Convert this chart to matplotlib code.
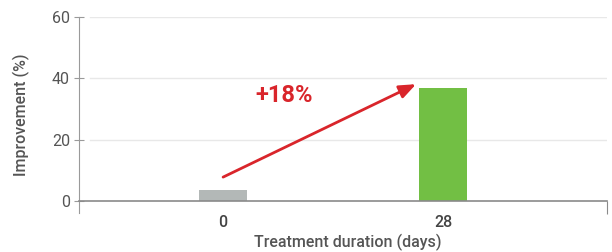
import matplotlib
matplotlib.use('Agg')
import matplotlib.pyplot as plt

# data
categories = ['0', '28']
improvement = [3.6, 36.8]
bar_colors = ['#b3b8b7', '#72bf44']
y_ticks = [0, 20, 40, 60]
delta_label = '+18%'

plt.rcParams['font.family'] = ['Roboto', 'DejaVu Sans']

fig = plt.figure(figsize=(6.12, 2.52), dpi=100)
ax = fig.add_axes([79 / 612, 1 - 213 / 252, 528 / 612, 196 / 252])

x = list(range(len(categories)))
ax.bar(x, improvement, width=0.215, color=bar_colors, zorder=2)

ax.set_xlim(-0.655, 1.745)
ax.set_ylim(-3.9, 60)

# light gridlines, starting a bit right of the axis
for t in y_ticks[1:]:
    ax.axhline(t, xmin=11 / 528, xmax=1, color='#e8e8e8', lw=1, zorder=0)

# spines
for s in ['top', 'right']:
    ax.spines[s].set_visible(False)
ax.spines['left'].set_color('#9a9a9a')
ax.spines['bottom'].set_position(('data', 0))
ax.spines['bottom'].set_color('#8a8a8a')
ax.spines['bottom'].set_linewidth(1.2)

ax.set_yticks(y_ticks)
ax.tick_params(axis='y', direction='inout', length=7, color='#9a9a9a',
               labelsize=11.5, labelcolor='#555555', pad=3)

# x ticks only at the axis ends, labels placed as text
ax.set_xticks([1.745])
ax.set_xticklabels([''])
ax.tick_params(axis='x', direction='out', length=9, color='#8a8a8a')
for xi, lab in zip(x, categories):
    ax.text(xi, -4.5, lab, ha='center', va='top', fontsize=11.5,
            fontweight='medium', color='#444444')

ax.set_ylabel('Improvement (%)', fontsize=11.5, fontweight='medium',
              color='#555555', labelpad=16)
fig.text((79 + 607) / 2 / 612 + 0.007, 1 - 242 / 252, 'Treatment duration (days)',
         ha='center', va='center', fontsize=11.5, fontweight='medium', color='#555555')

# arrow and annotation
ax.annotate('', xy=(0.877, 38.1), xytext=(0.0, 7.8),
            arrowprops=dict(arrowstyle='-|>,head_length=1.0,head_width=0.4',
                            color='#d9252b', lw=2, shrinkA=0, shrinkB=0), zorder=3)
ax.text(0.277, 34.5, delta_label, ha='center', va='center', fontsize=17,
        fontweight='bold', color='#d9252b')

fig.savefig('out.png', dpi=100)
